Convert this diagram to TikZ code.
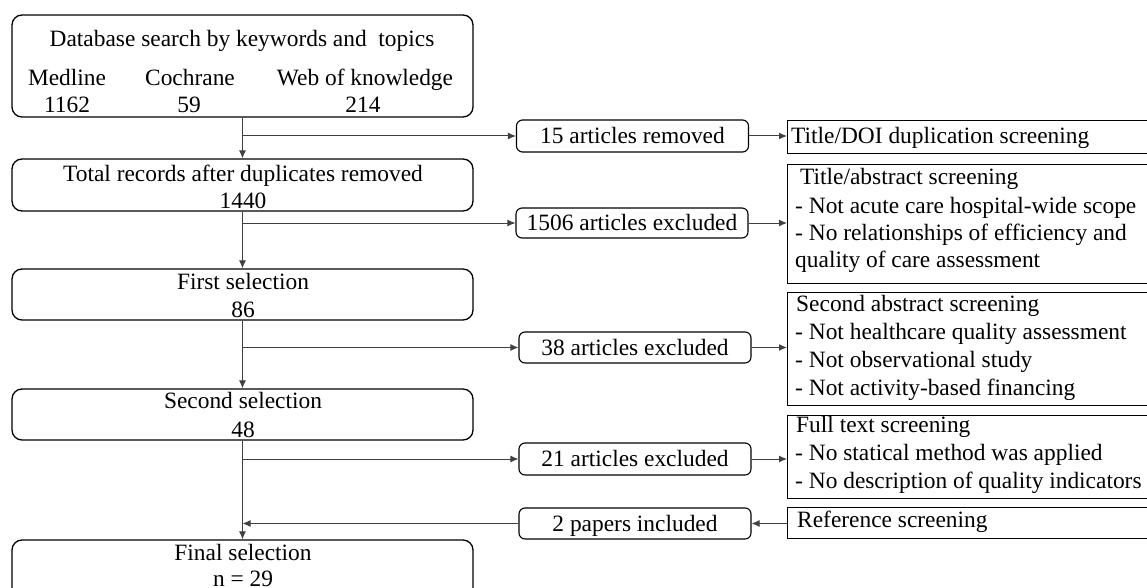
\documentclass[tikz,border=0pt]{standalone}
\usepackage{fontspec}
\setmainfont{Liberation Serif}
\usetikzlibrary{arrows.meta}
\begin{document}
\begin{tikzpicture}[x=1pt,y=-1pt,
  font=\fontsize{23.4pt}{27pt}\selectfont,
  mainbox/.style={draw=black, line width=1.3pt, rounded corners=10pt, minimum width=461pt, inner sep=0pt},
  smallbox/.style={draw=black, line width=1.1pt, rounded corners=6pt, minimum width=232pt, minimum height=31pt, inner sep=0pt, text height=15.5pt, text depth=0pt},
  sidebox/.style={draw=black, line width=1.1pt, inner sep=0pt, anchor=north west, minimum width=420pt},
  conn/.style={draw=black!75, line width=1pt},
  arr/.style={conn, -{Latex[length=8pt,width=7pt]}},
  ctxt/.style={inner sep=0pt, anchor=base},
  ltxt/.style={inner sep=0pt, anchor=base west}]
\useasboundingbox (0,0) rectangle (1147,588);
\clip (0,0) rectangle (1147,588);

% main column boxes
\node[mainbox, minimum height=102pt] (b1) at (242.5,66) {};
\node[mainbox, minimum height=52pt] (b2) at (242.5,185) {};
\node[mainbox, minimum height=51pt] (b3) at (242.5,294.5) {};
\node[mainbox, minimum height=51pt] (b4) at (242.5,414.5) {};
\node[mainbox, minimum height=60pt] (b5) at (242.5,570) {};

% main box texts
\node[ctxt] (t1a) at (242,47) {Database search by keywords and~ topics};
\node[ctxt] (t1b) at (67,86) {Medline};
\node[ctxt] (t1c) at (190,86) {Cochrane};
\node[ctxt] (t1d) at (365,86) {Web of knowledge};
\node[ctxt] (t1e) at (67,113) {1162};
\node[ctxt] (t1f) at (189,113) {59};
\node[ctxt] (t1g) at (363,113) {214};
\node[ctxt] (t2a) at (243,182) {Total records after duplicates removed};
\node[ctxt] (t2b) at (243,208) {1440};
\node[ctxt] (t3a) at (243,289) {First selection};
\node[ctxt] (t3b) at (243,317) {86};
\node[ctxt] (t4a) at (243,408) {Second selection};
\node[ctxt] (t4b) at (243,437) {48};
\node[ctxt] (t5a) at (243,560) {Final selection};
\node[ctxt] (t5b) at (243,586.5) {n = 29};

% middle boxes
\node[smallbox, minimum height=32pt] (s15) at (632.5,136) {15 articles removed};
\node[smallbox, minimum height=30pt] (s1506) at (632,223) {1506 articles excluded};
\node[smallbox] (s38) at (635,347.5) {38 articles excluded};
\node[smallbox, minimum height=32pt] (s21) at (635,459) {21 articles excluded};
\node[smallbox] (s2) at (635,523.5) {2 papers included};

% right boxes
\node[sidebox, minimum height=33pt] (rDOI) at (787,120) {};
\node[sidebox, minimum height=119pt] (rTA) at (787,164) {};
\node[sidebox, minimum height=113pt] (rSA) at (787,292) {};
\node[sidebox, minimum height=83pt] (rFT) at (787,415) {};
\node[sidebox, minimum height=31pt] (rRef) at (787,507) {};

% right box texts
\node[ltxt] (r1a) at (791,144) {Title/DOI duplication screening};
\node[ltxt] (r2a) at (800,185) {Title/abstract screening};
\node[ltxt] (r2b) at (795,213) {- Not acute care hospital-wide scope};
\node[ltxt] (r2c) at (795,240) {- No relationships of efficiency and};
\node[ltxt] (r2d) at (795,267) {quality of care assessment};
\node[ltxt] (r3a) at (796,311) {Second abstract screening};
\node[ltxt] (r3b) at (795,339) {- Not healthcare quality assessment};
\node[ltxt] (r3c) at (795,367) {- Not observational study};
\node[ltxt] (r3d) at (795,395) {- Not activity-based financing};
\node[ltxt] (r4a) at (796,432) {Full text screening};
\node[ltxt] (r4b) at (795,460) {- No statical method was applied};
\node[ltxt] (r4c) at (795,488) {- No description of quality indicators};
\node[ltxt] (r5a) at (797,527) {Reference screening};

% trunk
\draw[arr] (b1.south) -- (b2.north);
\draw[arr] (b2.south) -- (b3.north);
\draw[arr] (b3.south) -- (b4.north);
\draw[arr] (b4.south) -- (b5.north);

% branches to middle boxes
\draw[arr] (s15.west -| b1.south) -- (s15.west);
\draw[arr] (s1506.west -| b2.south) -- (s1506.west);
\draw[arr] (s38.west -| b3.south) -- (s38.west);
\draw[arr] (s21.west -| b4.south) -- (s21.west);
\draw[arr] (s2.west) -- (s2.west -| b4.south);

% middle to right
\draw[arr] (s15.east) -- (s15.east -| rDOI.west);
\draw[arr] (s1506.east) -- (s1506.east -| rTA.west);
\draw[arr] (s38.east) -- (s38.east -| rSA.west);
\draw[arr] (s21.east) -- (s21.east -| rFT.west);
\draw[arr] (s2.east -| rRef.west) -- (s2.east);
\end{tikzpicture}
\end{document}
